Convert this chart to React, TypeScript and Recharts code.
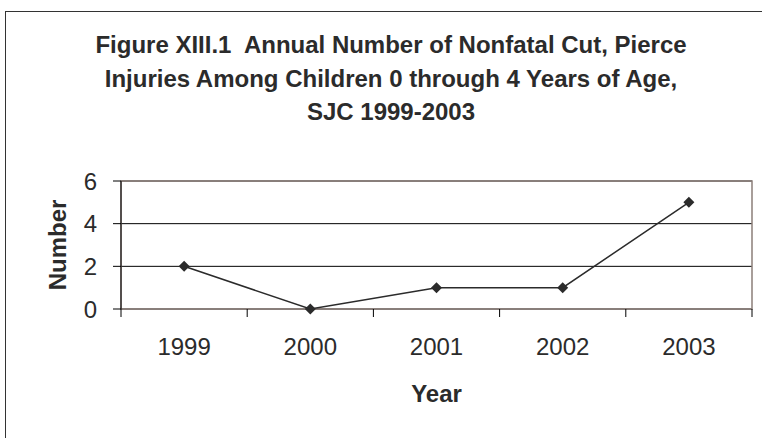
import { LineChart, Line, XAxis, YAxis, CartesianGrid, ReferenceArea, Label } from 'recharts';

const years = ['1999', '2000', '2001', '2002', '2003'];
const injuries = [2, 0, 1, 1, 5];
const yTicks = [0, 2, 4, 6];

const titleLines = [
  'Figure XIII.1  Annual Number of Nonfatal Cut, Pierce',
  'Injuries Among Children 0 through 4 Years of Age,',
  'SJC 1999-2003',
];

const data = years.map((year, i) => ({ year, injuries: injuries[i] }));

const W = 762;
const H = 438;
const margin = { top: 181, right: 10, bottom: 0, left: 0 };
const yAxisWidth = 121;
const band = (W - margin.left - margin.right - yAxisWidth) / years.length;

const font = '"Liberation Sans", Arial, sans-serif';
const ink = '#2b2b2b';

const YearTick = (props: any) => {
  const { x, y, payload, index } = props;
  const left = x - band / 2;
  const right = x + band / 2;
  return (
    <g>
      <line x1={left} y1={y} x2={left} y2={y + 8} stroke="#000" />
      {index === years.length - 1 && <line x1={right} y1={y} x2={right} y2={y + 8} stroke="#000" />}
      <text x={x} y={y + 46} textAnchor="middle" fontSize={24} fill={ink} fontFamily={font}>
        {payload.value}
      </text>
    </g>
  );
};

const Diamond = (props: any) => {
  const { cx, cy } = props;
  if (cx == null || cy == null) return null;
  const r = 5.5;
  return <path d={`M${cx},${cy - r} L${cx + r},${cy} L${cx},${cy + r} L${cx - r},${cy} Z`} fill={ink} />;
};

const App = () => {
  return (
    <div style={{ position: 'absolute', left: 0, top: 0, width: W, height: H, overflow: 'hidden', background: '#fff', fontFamily: font }}>
      <div style={{ position: 'absolute', left: 5, top: 11, width: W + 20, height: H + 20, border: '1px solid #333' }} />
      <div style={{ position: 'absolute', left: 0, top: 28, width: 782, textAlign: 'center', fontWeight: 'bold', fontSize: 24, lineHeight: '33.5px', color: ink }}>
        {titleLines.map((t) => (
          <div key={t} style={{ whiteSpace: 'pre' }}>{t}</div>
        ))}
      </div>
      <div style={{ position: 'absolute', left: 0, top: 0 }}>
        <LineChart width={W} height={H} data={data} margin={margin}>
          <CartesianGrid vertical={false} stroke="#000" />
          <ReferenceArea y1={0} y2={6} fill="none" stroke="#8c7f7a" strokeWidth={1.5} />
          <XAxis
            dataKey="year"
            scale="band"
            height={H - 309}
            axisLine={false}
            tickLine={false}
            tickSize={0}
            tickMargin={0}
            tick={<YearTick />}
            interval={0}
          >
            <Label value="Year" position="insideTop" offset={76} style={{ fontSize: 24, fontWeight: 'bold', fill: ink, fontFamily: font }} />
          </XAxis>
          <YAxis
            width={yAxisWidth}
            domain={[0, 6]}
            ticks={yTicks}
            interval={0}
            axisLine={{ stroke: '#000' }}
            tickLine={{ stroke: '#000' }}
            tickSize={8}
            tickMargin={16}
            tick={{ fontSize: 24, fill: ink, fontFamily: font }}
          >
            <Label
              value="Number"
              angle={-90}
              position="insideLeft"
              offset={57}
              style={{ fontSize: 24, fontWeight: 'bold', fill: ink, fontFamily: font, textAnchor: 'middle' }}
            />
          </YAxis>
          <Line
            type="linear"
            dataKey="injuries"
            stroke={ink}
            strokeWidth={1.5}
            dot={<Diamond />}
            activeDot={false}
            isAnimationActive={false}
          />
        </LineChart>
      </div>
    </div>
  );
};

export default App;
